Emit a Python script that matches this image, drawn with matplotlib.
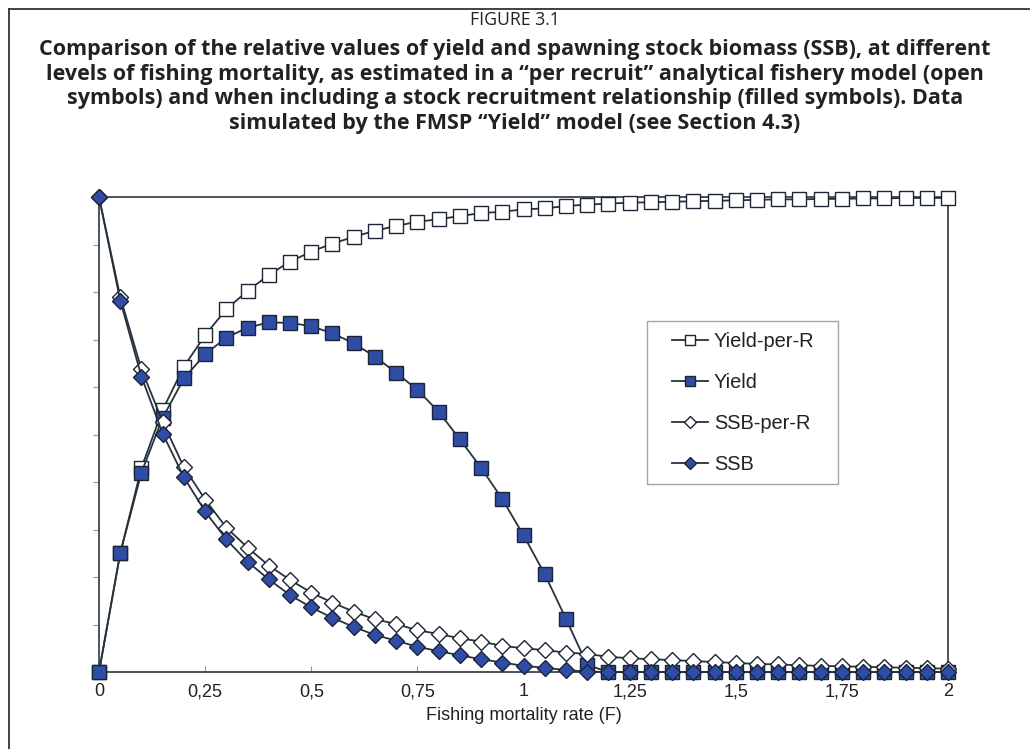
import matplotlib
matplotlib.use("Agg")
import matplotlib.pyplot as plt
from matplotlib.lines import Line2D
from matplotlib.patches import Rectangle

F = [0.0, 0.05, 0.1, 0.15, 0.2, 0.25, 0.3, 0.35, 0.4, 0.45, 0.5, 0.55, 0.6, 0.65,
     0.7, 0.75, 0.8, 0.85, 0.9, 0.95, 1.0, 1.05, 1.1, 1.15, 1.2, 1.25, 1.3, 1.35,
     1.4, 1.45, 1.5, 1.55, 1.6, 1.65, 1.7, 1.75, 1.8, 1.85, 1.9, 1.95, 2.0]

yield_per_r = [0.0, 0.25, 0.43, 0.552, 0.643, 0.709, 0.764, 0.802, 0.836, 0.864,
               0.885, 0.902, 0.916, 0.929, 0.939, 0.948, 0.953, 0.960, 0.966, 0.969,
               0.974, 0.976, 0.981, 0.984, 0.986, 0.988, 0.989, 0.990, 0.991, 0.992,
               0.993, 0.994, 0.995, 0.995, 0.996, 0.996, 0.997, 0.997, 0.998, 0.998, 0.998]

yield_sr = [0.0, 0.25, 0.42, 0.535, 0.618, 0.669, 0.704, 0.725, 0.736, 0.735,
            0.728, 0.713, 0.692, 0.664, 0.63, 0.594, 0.548, 0.49, 0.43, 0.364,
            0.288, 0.206, 0.112, 0.015, 0.0, 0.0, 0.0, 0.0, 0.0, 0.0,
            0.0, 0.0, 0.0, 0.0, 0.0, 0.0, 0.0, 0.0, 0.0, 0.0, 0.0]

ssb_per_r = [1.0, 0.79, 0.637, 0.527, 0.431, 0.363, 0.304, 0.262, 0.224, 0.194,
             0.167, 0.146, 0.127, 0.111, 0.101, 0.088, 0.080, 0.071, 0.064, 0.055,
             0.050, 0.046, 0.041, 0.038, 0.032, 0.029, 0.027, 0.025, 0.023, 0.021,
             0.019, 0.017, 0.016, 0.014, 0.013, 0.012, 0.011, 0.010, 0.009, 0.008, 0.007]

ssb_sr = [1.0, 0.782, 0.622, 0.502, 0.41, 0.338, 0.279, 0.232, 0.195, 0.162,
          0.136, 0.114, 0.095, 0.078, 0.066, 0.053, 0.044, 0.035, 0.027, 0.02,
          0.013, 0.009, 0.004, 0.001, 0.0, 0.0, 0.0, 0.0, 0.0, 0.0,
          0.0, 0.0, 0.0, 0.0, 0.0, 0.0, 0.0, 0.0, 0.0, 0.0, 0.0]

xtick_vals = [0, 0.25, 0.5, 0.75, 1, 1.25, 1.5, 1.75, 2]
xtick_labels = ["0", "0,25", "0,5", "0,75", "1", "1,25", "1,5", "1,75", "2"]

series_labels = ["Yield-per-R", "Yield", "SSB-per-R", "SSB"]

title_top = "FIGURE 3.1"
title_main = ("Comparison of the relative values of yield and spawning stock biomass (SSB), at different\n"
              "levels of fishing mortality, as estimated in a \u201cper recruit\u201d analytical fishery model (open\n"
              "symbols) and when including a stock recruitment relationship (filled symbols). Data\n"
              "simulated by the FMSP \u201cYield\u201d model (see Section 4.3)")

BLUE = "#2f4da6"
EDGE = "#1c2433"
LINE = "#27323d"
W, H = 1030, 749

fig = plt.figure(figsize=(W / 100, H / 100), dpi=100)
fig.patch.set_facecolor("white")

# outer frame (left and top visible)
fig.add_artist(Line2D([9 / W, 9 / W], [0, 1 - 9 / H], transform=fig.transFigure,
                      color="#333333", lw=1.3))
fig.add_artist(Line2D([9 / W, 1.0], [1 - 9 / H, 1 - 9 / H], transform=fig.transFigure,
                      color="#333333", lw=1.3))

fig.text(0.5, 1 - 20 / H, title_top, ha="center", va="center",
         fontsize=12.7, family="Open Sans", color="#222222")
fig.text(0.5, 1 - 86.5 / H, title_main, ha="center", va="center",
         fontsize=15.5, family="Open Sans", fontweight="bold", color="#222222",
         linespacing=1.22)

ax = fig.add_axes([99 / W, 1 - 672 / H, (948 - 99) / W, (672 - 197) / H])
ax.set_xlim(0, 2)
ax.set_ylim(0, 1)

common = dict(color=LINE, lw=1.3, clip_on=False, markeredgecolor=EDGE, markeredgewidth=1.0)
ax.plot(F, yield_per_r, marker="s", markersize=9.5, markerfacecolor="white",
        label=series_labels[0], zorder=3, **common)
ax.plot(F, yield_sr, marker="s", markersize=9.5, markerfacecolor=BLUE,
        label=series_labels[1], zorder=4, **common)
ax.plot(F, ssb_per_r, marker="D", markersize=8, markerfacecolor="white",
        label=series_labels[2], zorder=5, **common)
ax.plot(F, ssb_sr, marker="D", markersize=8, markerfacecolor=BLUE,
        label=series_labels[3], zorder=6, **common)

for s in ax.spines.values():
    s.set_color("#3a4652")
    s.set_linewidth(1.3)

ax.set_xticks(xtick_vals)
ax.set_xticklabels(xtick_labels, fontsize=13, family="Liberation Sans", color="#222222")
ax.tick_params(axis="x", direction="in", length=4, color="#8899aa", pad=8)
ax.set_yticks([i / 10 for i in range(11)])
ax.set_yticklabels([])
ax.tick_params(axis="y", direction="out", length=4, color="#8899aa")

ax.set_xlabel("Fishing mortality rate (F)", fontsize=13, family="Liberation Sans",
              color="#222222", labelpad=5)

# legend frame drawn separately (inside the axes, below the legend)
ax.add_patch(Rectangle((647 / W, 1 - 484 / H), (838 - 647) / W, (484 - 321) / H,
                       transform=fig.transFigure, facecolor="white",
                       edgecolor="#9aa6b4", lw=1.0, zorder=7, clip_on=False))
leg = ax.legend(loc="center left", bbox_to_anchor=(672 / W, 1 - 403 / H),
                bbox_transform=fig.transFigure, borderaxespad=0, borderpad=0,
                frameon=False, prop={"family": "Liberation Sans", "size": 14.4},
                labelspacing=1.09, handlelength=1.8, handletextpad=0.3,
                markerscale=0.8)
leg.set_zorder(8)
for t in leg.get_texts():
    t.set_color("#222222")

fig.savefig("out.png", dpi=100)
